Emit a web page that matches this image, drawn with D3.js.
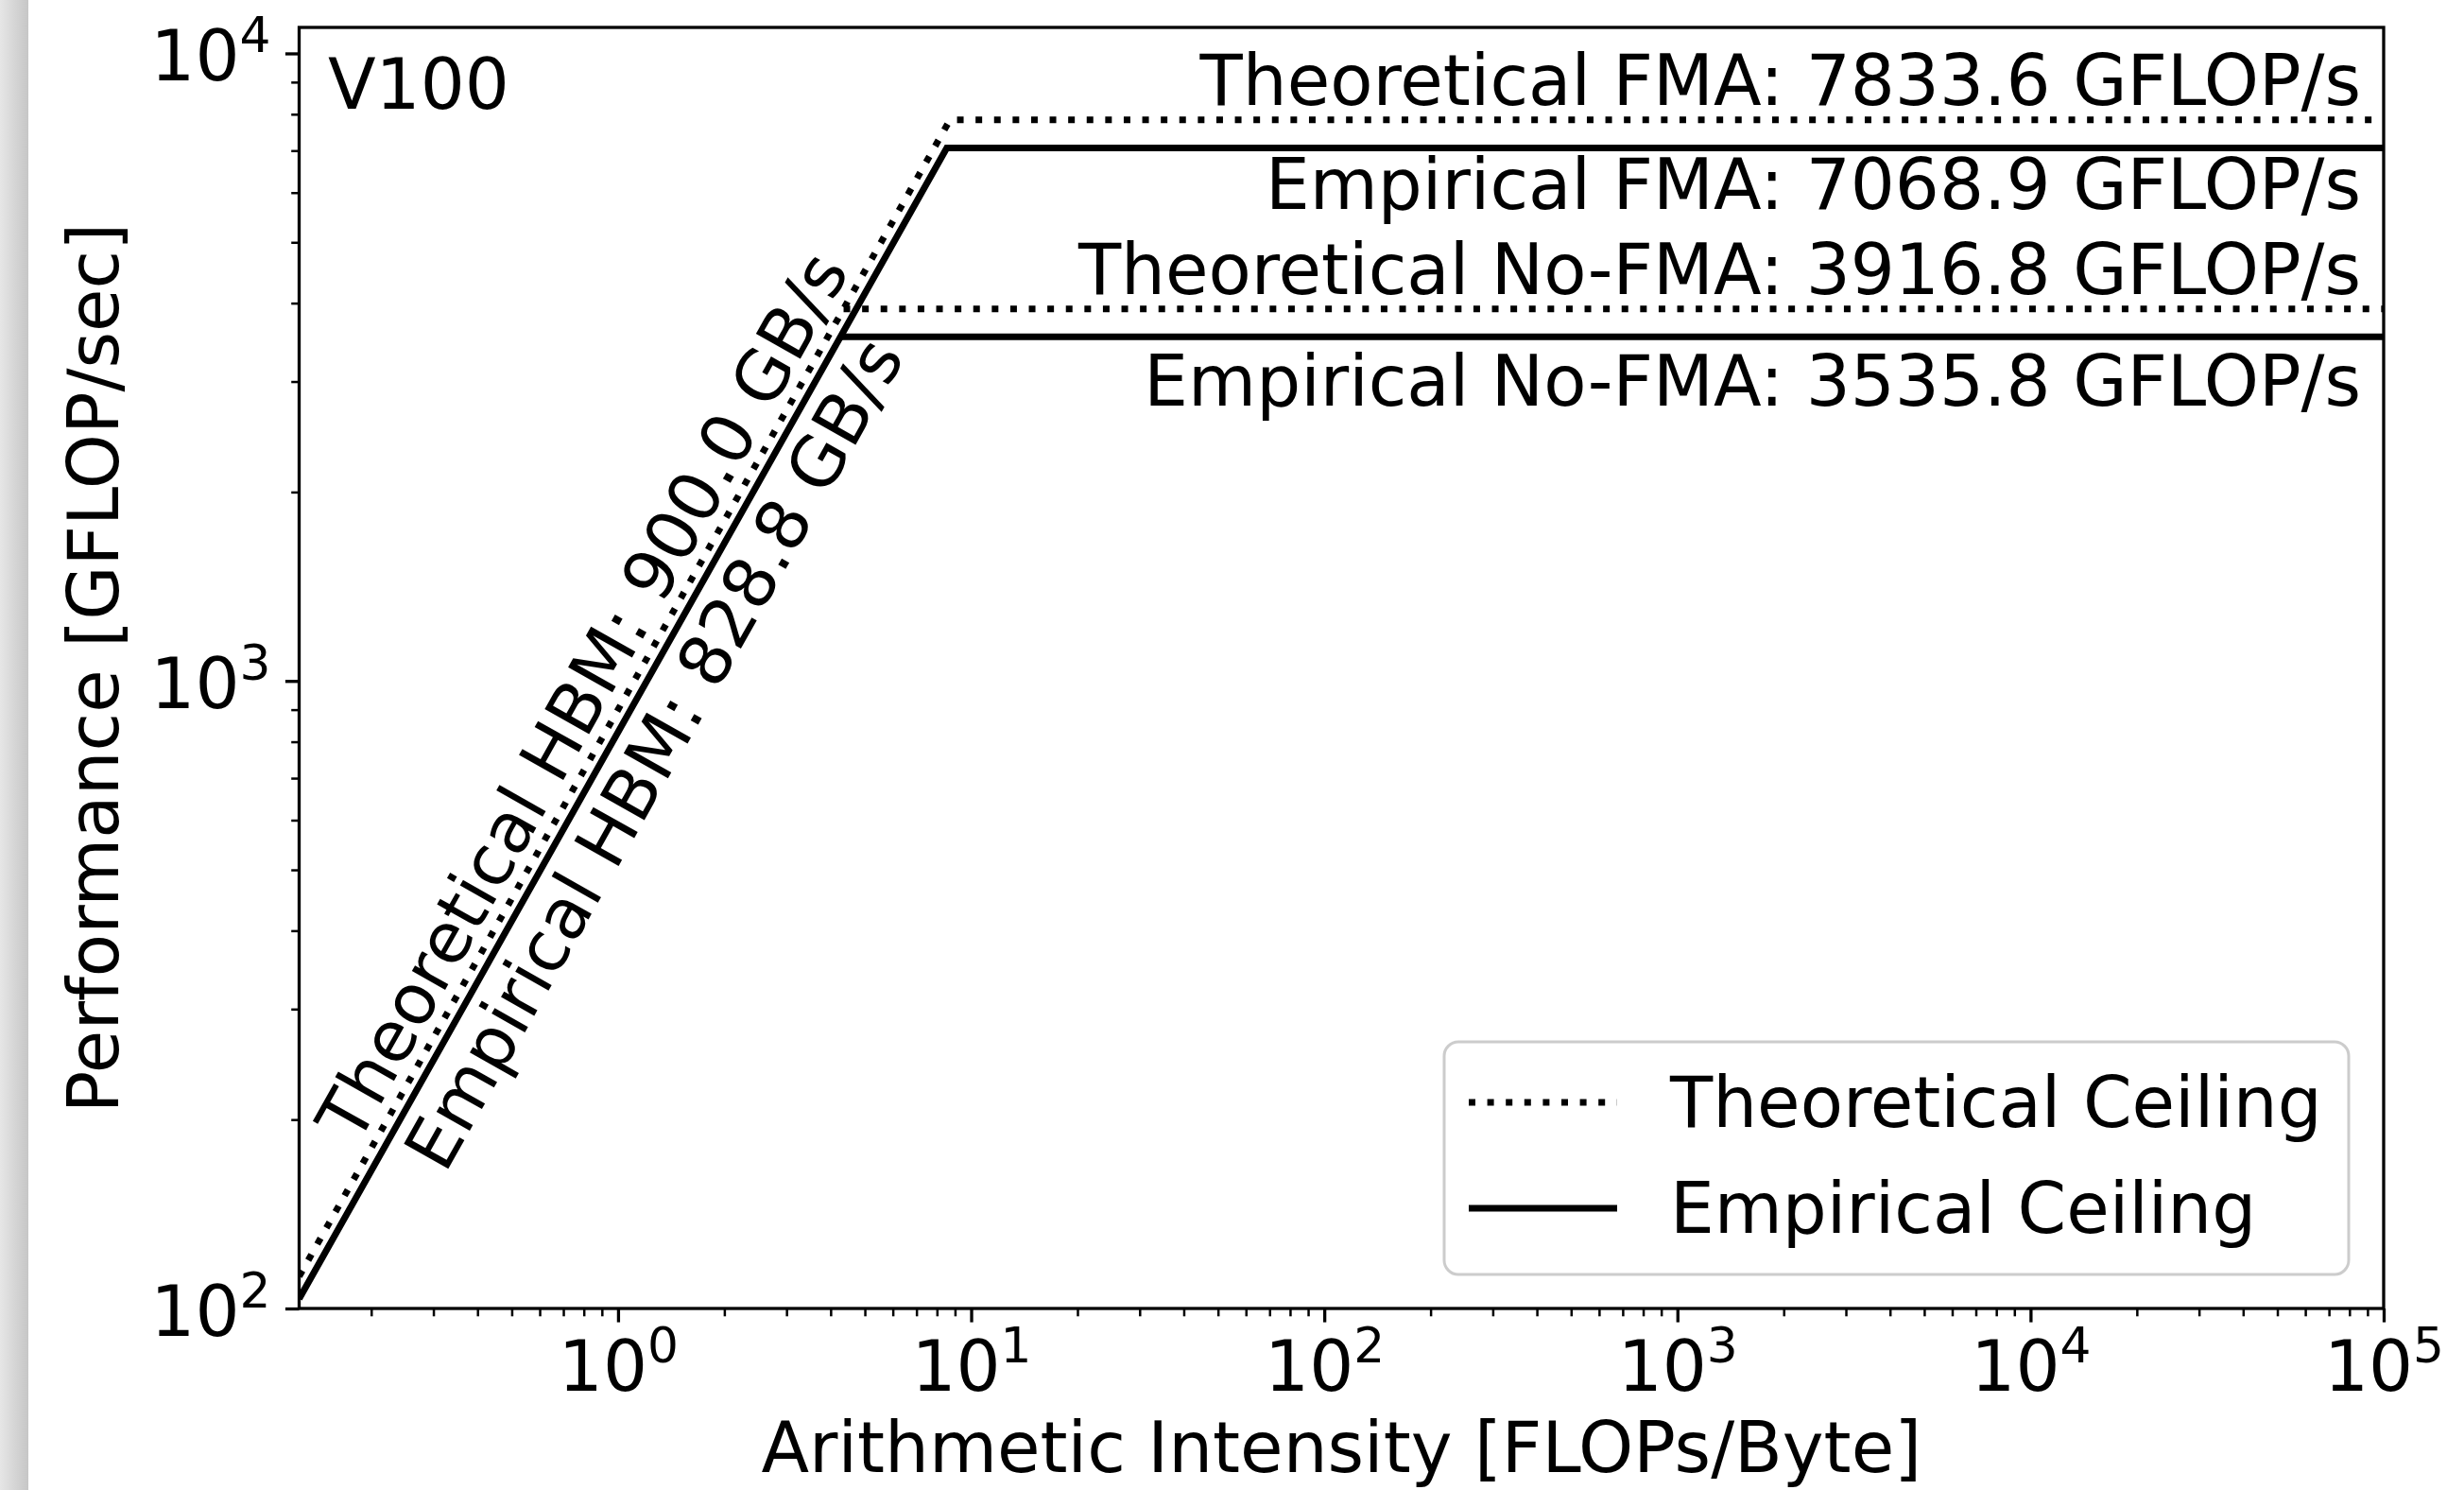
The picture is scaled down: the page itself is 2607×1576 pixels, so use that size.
<!DOCTYPE html>
<html>
<head>
<meta charset="utf-8">
<script src="https://cdn.jsdelivr.net/npm/d3@7"></script>
<style>
  body { margin: 0; background: #fff; }
  text { font-family: "DejaVu Sans", sans-serif; fill: #000; }
</style>
</head>
<body>
<div id="chart"></div>
<script>

// values
var device = "V100";
var bandwidthNames = ["Theoretical HBM", "Empirical HBM"];
var bandwidthValues = [900.0, 828.8];                     // GB/s
var bandwidthKind = ["Theoretical", "Empirical"];
var peakNames = ["Theoretical FMA", "Empirical FMA", "Theoretical No-FMA", "Empirical No-FMA"];
var peakValues = [7833.6, 7068.9, 3916.8, 3535.8];         // GFLOP/s
var peakKind = ["Theoretical", "Empirical", "Theoretical", "Empirical"];
var xTickExponents = [0, 1, 2, 3, 4, 5];
var yTickExponents = [2, 3, 4];
var legendLabels = ["Theoretical Ceiling", "Empirical Ceiling"];
var xDomain = [0.125, 1e5];
var yDomain = [100, 11000];

// set the dimensions and margins of the graph
var W = 2607, H = 1576;
var margin = {top: 29, right: 85, bottom: 192, left: 316.5},
    width = W - margin.left - margin.right,
    height = H - margin.top - margin.bottom;

var FS = 74, LW = 7;
var dash = {Theoretical: "7 12.6", Empirical: null};

var svg = d3.select("#chart")
  .append("svg")
    .attr("width", W)
    .attr("height", H);

// grey shadow along the left edge of the picture
var grad = svg.append("defs").append("linearGradient")
    .attr("id", "edge").attr("x1", 0).attr("x2", 1).attr("y1", 0).attr("y2", 0);
grad.append("stop").attr("offset", 0).attr("stop-color", "#e6e6e6");
grad.append("stop").attr("offset", 1).attr("stop-color", "#c6c6c6");
svg.append("rect").attr("x", 0).attr("y", 0).attr("width", 30).attr("height", H)
    .attr("fill", "url(#edge)");

var g = svg.append("g")
    .attr("transform", "translate(" + margin.left + "," + margin.top + ")");

svg.select("defs").append("clipPath").attr("id", "plot")
  .append("rect").attr("width", width).attr("height", height);

// scales
var x = d3.scaleLog().domain(xDomain).range([0, width]);
var y = d3.scaleLog().domain(yDomain).range([height, 0]);

var xMajor = xTickExponents.map(function(e) { return Math.pow(10, e); });
var yMajor = yTickExponents.map(function(e) { return Math.pow(10, e); });
function isMinor(v) { return Math.abs(Math.log10(v) - Math.round(Math.log10(v))) > 1e-9; }
var xMinor = x.ticks().filter(isMinor);
var yMinor = y.ticks().filter(isMinor);

// minor ticks
g.append("g").attr("transform", "translate(0," + height + ")")
  .call(d3.axisBottom(x).tickValues(xMinor).tickSize(8.3).tickSizeOuter(0).tickFormat(""))
  .call(function(a) { a.select(".domain").remove(); a.selectAll("line").attr("stroke-width", 2.5); });
g.append("g")
  .call(d3.axisLeft(y).tickValues(yMinor).tickSize(8.3).tickSizeOuter(0).tickFormat(""))
  .call(function(a) { a.select(".domain").remove(); a.selectAll("line").attr("stroke-width", 2.5); });

// power-of-ten tick labels
function powerLabel(sel) {
  sel.each(function(d) {
    var t = d3.select(this).text(null);
    t.append("tspan").text("10");
    t.append("tspan").attr("dy", -30).attr("font-size", FS * 0.7)
      .text(Math.round(Math.log10(d)));
  });
}

var xAxis = g.append("g").attr("transform", "translate(0," + height + ")")
  .call(d3.axisBottom(x).tickValues(xMajor).tickSize(14.6).tickSizeOuter(0).tickFormat(""));
xAxis.select(".domain").remove();
xAxis.selectAll("line").attr("stroke-width", 3.3);
xAxis.selectAll(".tick text")
  .attr("y", 87).attr("dy", null)
  .attr("font-size", FS).attr("font-family", "DejaVu Sans")
  .call(powerLabel);

var yAxis = g.append("g")
  .call(d3.axisLeft(y).tickValues(yMajor).tickSize(14.6).tickSizeOuter(0).tickFormat(""));
yAxis.select(".domain").remove();
yAxis.selectAll("line").attr("stroke-width", 3.3);
yAxis.selectAll(".tick text")
  .attr("x", -30).attr("y", 28).attr("dy", null)
  .attr("text-anchor", "end")
  .attr("font-size", FS).attr("font-family", "DejaVu Sans")
  .call(powerLabel);

// ceilings
var lines = g.append("g").attr("clip-path", "url(#plot)");
var line = d3.line().x(function(d) { return x(d[0]); }).y(function(d) { return y(d[1]); });

// sloped memory ceiling joined to the FMA peak
bandwidthValues.forEach(function(bw, i) {
  var peak = peakValues[i];
  var pts = [[xDomain[0], bw * xDomain[0]], [peak / bw, peak], [xDomain[1], peak]];
  lines.append("path").datum(pts)
    .attr("d", line)
    .attr("fill", "none").attr("stroke", "#000")
    .attr("stroke-width", LW)
    .attr("stroke-linejoin", "miter")
    .attr("stroke-dasharray", dash[bandwidthKind[i]]);
});

// no-FMA ceilings start where they meet their own slope
peakValues.forEach(function(peak, i) {
  if (i < 2) return;
  var bw = bandwidthValues[i - 2];
  lines.append("path").datum([[peak / bw, peak], [xDomain[1], peak]])
    .attr("d", line)
    .attr("fill", "none").attr("stroke", "#000")
    .attr("stroke-width", LW)
    .attr("stroke-dasharray", dash[peakKind[i]]);
});

// peak labels, right aligned: theoretical above the line, empirical below
var below = [0, 65, 0, 73];
peakValues.forEach(function(peak, i) {
  var above = peakKind[i] === "Theoretical";
  g.append("text")
    .attr("x", width - 24)
    .attr("y", y(peak) + (above ? -16 : below[i]))
    .attr("text-anchor", "end")
    .attr("font-size", FS)
    .text(peakNames[i] + ": " + peak.toFixed(1) + " GFLOP/s");
});

// bandwidth labels along the slope
var angle = Math.atan2(y(100) - y(1000), x(1) - x(0.1)) * 180 / Math.PI;
var labelAt = [0.197, 0.222];
var labelOffset = [-14, 70];
bandwidthValues.forEach(function(bw, i) {
  var px = x(labelAt[i]), py = y(bw * labelAt[i]);
  g.append("text")
    .attr("transform", "translate(" + px + "," + py + ") rotate(" + (-angle) + ")")
    .attr("y", labelOffset[i])
    .attr("font-size", FS)
    .text(bandwidthNames[i] + ": " + bw.toFixed(1) + " GB/s");
});

// device name
g.append("text").attr("x", 30.5).attr("y", 86).attr("font-size", FS).text(device);

// frame
g.append("rect").attr("width", width).attr("height", height)
  .attr("fill", "none").attr("stroke", "#000").attr("stroke-width", 3.3);

// legend
var leg = g.append("g").attr("transform", "translate(" + (width - 37 - 957) + "," + (height - 36 - 246) + ")");
leg.append("rect").attr("width", 957).attr("height", 246).attr("rx", 15)
  .attr("fill", "#fff").attr("fill-opacity", 0.8)
  .attr("stroke", "#cccccc").attr("stroke-width", 3);
legendLabels.forEach(function(lab, i) {
  var kind = i === 0 ? "Theoretical" : "Empirical";
  var ly = 64 + i * 112;
  leg.append("line").attr("x1", 26).attr("x2", 183).attr("y1", ly).attr("y2", ly)
    .attr("stroke", "#000").attr("stroke-width", LW)
    .attr("stroke-dasharray", dash[kind]);
  leg.append("text").attr("x", 239).attr("y", ly + 26).attr("font-size", FS).text(lab);
});

// axis titles
svg.append("text")
  .attr("x", margin.left + width / 2).attr("y", 1557)
  .attr("text-anchor", "middle").attr("font-size", FS)
  .text("Arithmetic Intensity [FLOPs/Byte]");
svg.append("text")
  .attr("transform", "translate(125," + (margin.top + height / 2) + ") rotate(-90)")
  .attr("text-anchor", "middle").attr("font-size", FS)
  .text("Performance [GFLOP/sec]");

</script>
</body>
</html>
